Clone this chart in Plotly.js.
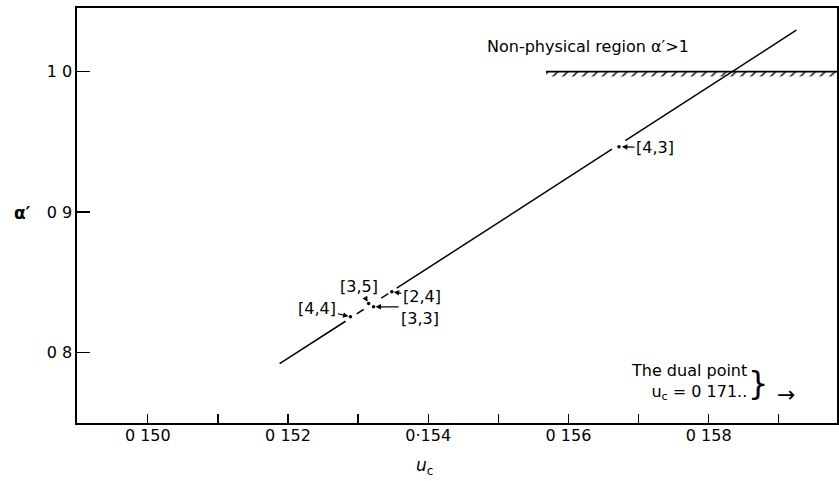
<!DOCTYPE html>
<html>
<head>
<meta charset="utf-8">
<script src="https://cdn.plot.ly/plotly-3.0.1.min.js"></script>
<style>html,body{margin:0;padding:0;background:#fff}#chart{width:839px;height:481px}</style>
</head>
<body>
<div id="chart"></div>
<script>
// ---- data ----
const xTickVals = [0.150, 0.152, 0.154, 0.156, 0.158];
const xTickText = ["0 150", "0 152", "0\u00b7154", "0 156", "0 158"];
const xMinorTickVals = [0.151, 0.153, 0.155, 0.157, 0.159];
const yTickVals = [0.8, 0.9, 1.0];
const yTickText = ["0 8", "0 9", "1 0"];

// fitted line (drawn with gaps around the estimates)
const lineX = [0.15188, 0.15282, null, 0.15298, 0.15308, null, 0.15333, 0.15343, null, 0.15355, 0.15662, null, 0.15681, 0.15925];
const lineY = [0.7922, 0.8224, null, 0.8276, 0.8308, null, 0.8389, 0.8421, null, 0.8459, 0.9448, null, 0.9509, 1.0295];

// estimates [L,M]
const ptLabels = ["[4,4]", "[3,5]", "[3,3]", "[2,4]", "[4,3]"];
const ptX = [0.15289, 0.15315, 0.15322, 0.15348, 0.15672];
const ptY = [0.8256, 0.8350, 0.8327, 0.8434, 0.9466];

// non-physical boundary alpha' = 1
const boundaryY = 1.0;
const boundaryStartX = 0.15568;

const xRange = [0.14899, 0.15983];
const yRange = [0.7500, 1.0453];

const FONT = "DejaVu Sans, sans-serif";

const traces = [
  { // hatch band below the boundary
    x: [boundaryStartX, xRange[1], xRange[1], boundaryStartX],
    y: [boundaryY, boundaryY, boundaryY - 0.0035, boundaryY - 0.0035],
    mode: "lines", fill: "toself", line: {width: 0, color: "rgba(0,0,0,0)"},
    fillcolor: "rgba(0,0,0,0)",
    fillpattern: {shape: "/", size: 7, solidity: 0.2, fgcolor: "#000", bgcolor: "rgba(0,0,0,0)"},
    hoverinfo: "skip", showlegend: false
  },
  { // boundary line
    x: [boundaryStartX, xRange[1]], y: [boundaryY, boundaryY],
    mode: "lines", line: {color: "#000", width: 1.6}, showlegend: false
  },
  { // main line
    x: lineX, y: lineY, mode: "lines", connectgaps: false,
    line: {color: "#000", width: 1.5}, showlegend: false
  },
  { // estimate points
    x: ptX, y: ptY, mode: "markers",
    marker: {color: "#000", size: 3.5}, showlegend: false
  }
];

const arrowCommon = {showarrow: true, arrowhead: 2, arrowsize: 0.9, arrowwidth: 1.2, arrowcolor: "#000",
  font: {family: FONT, size: 16, color: "#000"}, xref: "x", yref: "y", axref: "pixel", ayref: "pixel"};

const W = 839, H = 481, M = {l: 77, r: 2, t: 8, b: 58};
const pw = W - M.l - M.r, ph = H - M.t - M.b;

const annotations = [
  Object.assign({}, arrowCommon, {x: ptX[4], y: ptY[4], text: ptLabels[4], ax: 36, ay: 1, standoff: 3}),
  Object.assign({}, arrowCommon, {x: ptX[0], y: ptY[0], text: ptLabels[0], ax: -33, ay: -8, standoff: 2}),
  Object.assign({}, arrowCommon, {x: ptX[1], y: ptY[1], text: ptLabels[1], ax: -10, ay: -17, standoff: 2}),
  Object.assign({}, arrowCommon, {x: ptX[3], y: ptY[3], text: ptLabels[3], ax: 30, ay: 5, standoff: 2}),
  Object.assign({}, arrowCommon, {x: ptX[2], y: ptY[2], text: ptLabels[2], ax: 25, ay: 0, standoff: 2,
    xanchor: "left", yanchor: "top"}),
  {x: 0.15481, y: 1.0176, xref: "x", yref: "y", text: "Non-physical region \u03b1\u2032>1", showarrow: false,
    xanchor: "left", yanchor: "middle", font: {family: FONT, size: 16, color: "#000"}},
  {x: 0.15857, y: 0.7790, xref: "x", yref: "y", text: "The dual point<br>u<sub>c</sub> = 0 171..", showarrow: false,
    xanchor: "right", yanchor: "middle", align: "right", font: {family: FONT, size: 16, color: "#000"}},
  {x: 0.15870, y: 0.7785, xref: "x", yref: "y", text: "}", showarrow: false,
    xanchor: "center", yanchor: "middle", font: {family: "DejaVu Sans, sans-serif", size: 32, color: "#000"}},
  {x: 0.15910, y: 0.7705, xref: "x", yref: "y", text: "\u2192", showarrow: false,
    xanchor: "center", yanchor: "middle", font: {family: FONT, size: 22, color: "#000"}},
  {x: (22 - M.l) / pw, y: 1 - (213 - M.t) / ph, xref: "paper", yref: "paper",
    text: "<b>\u03b1\u2032</b>", showarrow: false, xanchor: "center", yanchor: "middle",
    font: {family: FONT, size: 17, color: "#000"}},
  {x: (424 - M.l) / pw, y: 1 - (466 - M.t) / ph, xref: "paper", yref: "paper",
    text: "<i>u</i><sub>c</sub>", showarrow: false, xanchor: "center", yanchor: "middle",
    font: {family: FONT, size: 17, color: "#000"}}
];

const layout = {
  width: W, height: H,
  margin: M,
  paper_bgcolor: "#fff", plot_bgcolor: "#fff",
  font: {family: FONT, size: 16, color: "#000"},
  showlegend: false,
  xaxis: {
    range: xRange, tickmode: "array", tickvals: xTickVals, ticktext: xTickText,
    ticks: "inside", ticklen: 9, tickwidth: 1.3, tickcolor: "#000", ticklabelstandoff: -3,
    minor: {tickmode: "array", tickvals: xMinorTickVals, ticks: "inside", ticklen: 9, tickwidth: 1.3, tickcolor: "#000", showgrid: false},
    showline: true, linecolor: "#000", linewidth: 1.6, mirror: true,
    showgrid: false, zeroline: false, tickfont: {family: FONT, size: 16, color: "#000"}
  },
  yaxis: {
    range: yRange, tickmode: "array", tickvals: yTickVals, ticktext: yTickText,
    ticks: "inside", ticklen: 13, tickwidth: 1.5, tickcolor: "#000",
    showline: true, linecolor: "#000", linewidth: 1.6, mirror: true,
    showgrid: false, zeroline: false, tickfont: {family: FONT, size: 16, color: "#000"}
  },
  annotations: annotations
};

Plotly.newPlot("chart", traces, layout, {staticPlot: true, displayModeBar: false});
</script>
</body>
</html>
